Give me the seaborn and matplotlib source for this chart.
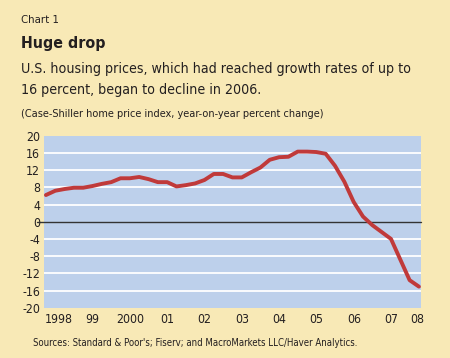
import pandas as pd
import seaborn as sns
import matplotlib.pyplot as plt

# quarterly year-on-year % change, Case-Shiller index, starting Q2 1998
start_year = 1998.375
values = [6.2, 7.2, 7.6, 7.9, 7.9, 8.3, 8.8, 9.2, 10.1, 10.1,
          10.4, 9.9, 9.2, 9.2, 8.2, 8.5, 8.9, 9.7, 11.1, 11.1,
          10.3, 10.3, 11.5, 12.6, 14.4, 15.0, 15.1, 16.3, 16.3, 16.2,
          15.8, 13.0, 9.3, 4.6, 1.2, -0.8, -2.4, -4.0, -8.8, -13.6,
          -15.1]
year_labels = ["1998", "99", "2000", "01", "02", "03", "04", "05", "06", "07", "08"]
y_ticks = [20, 16, 12, 8, 4, 0, -4, -8, -12, -16, -20]

data = pd.DataFrame({"t": [start_year + 0.25 * i for i in range(len(values))],
                     "pct": values})

bg = "#f8e9b6"
panel = "#bdd0eb"
red = "#c03a3a"
ink = "#231f20"

sns.set_style("white")
plt.rcParams["font.family"] = ["DejaVu Sans"]
plt.rcParams["font.stretch"] = "condensed"

fig = plt.figure(figsize=(4.5, 3.58), dpi=100, facecolor=bg)
ax = fig.add_axes([43.5 / 450, 1 - 307.7 / 358, (421 - 43.5) / 450, (307.7 - 135.7) / 358])
ax.set_facecolor(panel)

for g in [16, 12, 8, 4, -4, -8, -12, -16]:
    ax.axhline(g, color="white", lw=1.3, zorder=1)
ax.axhline(0, xmin=-0.018, color="#333333", lw=1.0, zorder=2, clip_on=False)

sns.lineplot(data=data, x="t", y="pct", color=red, lw=2.8, ax=ax, zorder=3)

ax.set_xlim(1998.31, 2008.43)
ax.set_ylim(-20, 20)
for s in ax.spines.values():
    s.set_visible(False)

ax.set_yticks(y_ticks)
ax.set_yticklabels([str(v) for v in y_ticks], fontsize=8.8, color=ink)
ax.tick_params(axis="y", length=0, pad=2.5)

ax.set_xticks([1998.31] + list(range(1999, 2009)))
ax.set_xticklabels([])
ax.tick_params(axis="x", which="major", direction="in", length=3, width=1, color="#333333")
label_pos = [1998.71] + [y + 0.63 for y in range(1999, 2008)] + [2008.34]
ax.set_xticks(label_pos, minor=True)
ax.set_xticklabels(year_labels, minor=True, fontsize=8.8, color=ink)
ax.tick_params(axis="x", which="minor", length=0, pad=4)
ax.set_xlabel("")
ax.set_ylabel("")

def px(x, y):
    return x / 450, 1 - y / 358

fig.text(*px(21, 23.3), "Chart 1", fontsize=8.2, color=ink, va="baseline")
fig.text(*px(21, 47.7), "Huge drop", fontsize=11.4, fontweight="bold", color=ink, va="baseline")
fig.text(*px(21, 73.3), "U.S. housing prices, which had reached growth rates of up to",
         fontsize=10.15, color=ink, va="baseline")
fig.text(*px(21, 94.3), "16 percent, began to decline in 2006.",
         fontsize=10.15, color=ink, va="baseline")
fig.text(*px(21, 117.3), "(Case-Shiller home price index, year-on-year percent change)",
         fontsize=7.8, color=ink, va="baseline")
fig.text(*px(33, 345.7), "Sources: Standard & Poor's; Fiserv; and MacroMarkets LLC/Haver Analytics.",
         fontsize=6.9, color=ink, va="baseline")

plt.savefig("out.png", dpi=100, facecolor=bg)
